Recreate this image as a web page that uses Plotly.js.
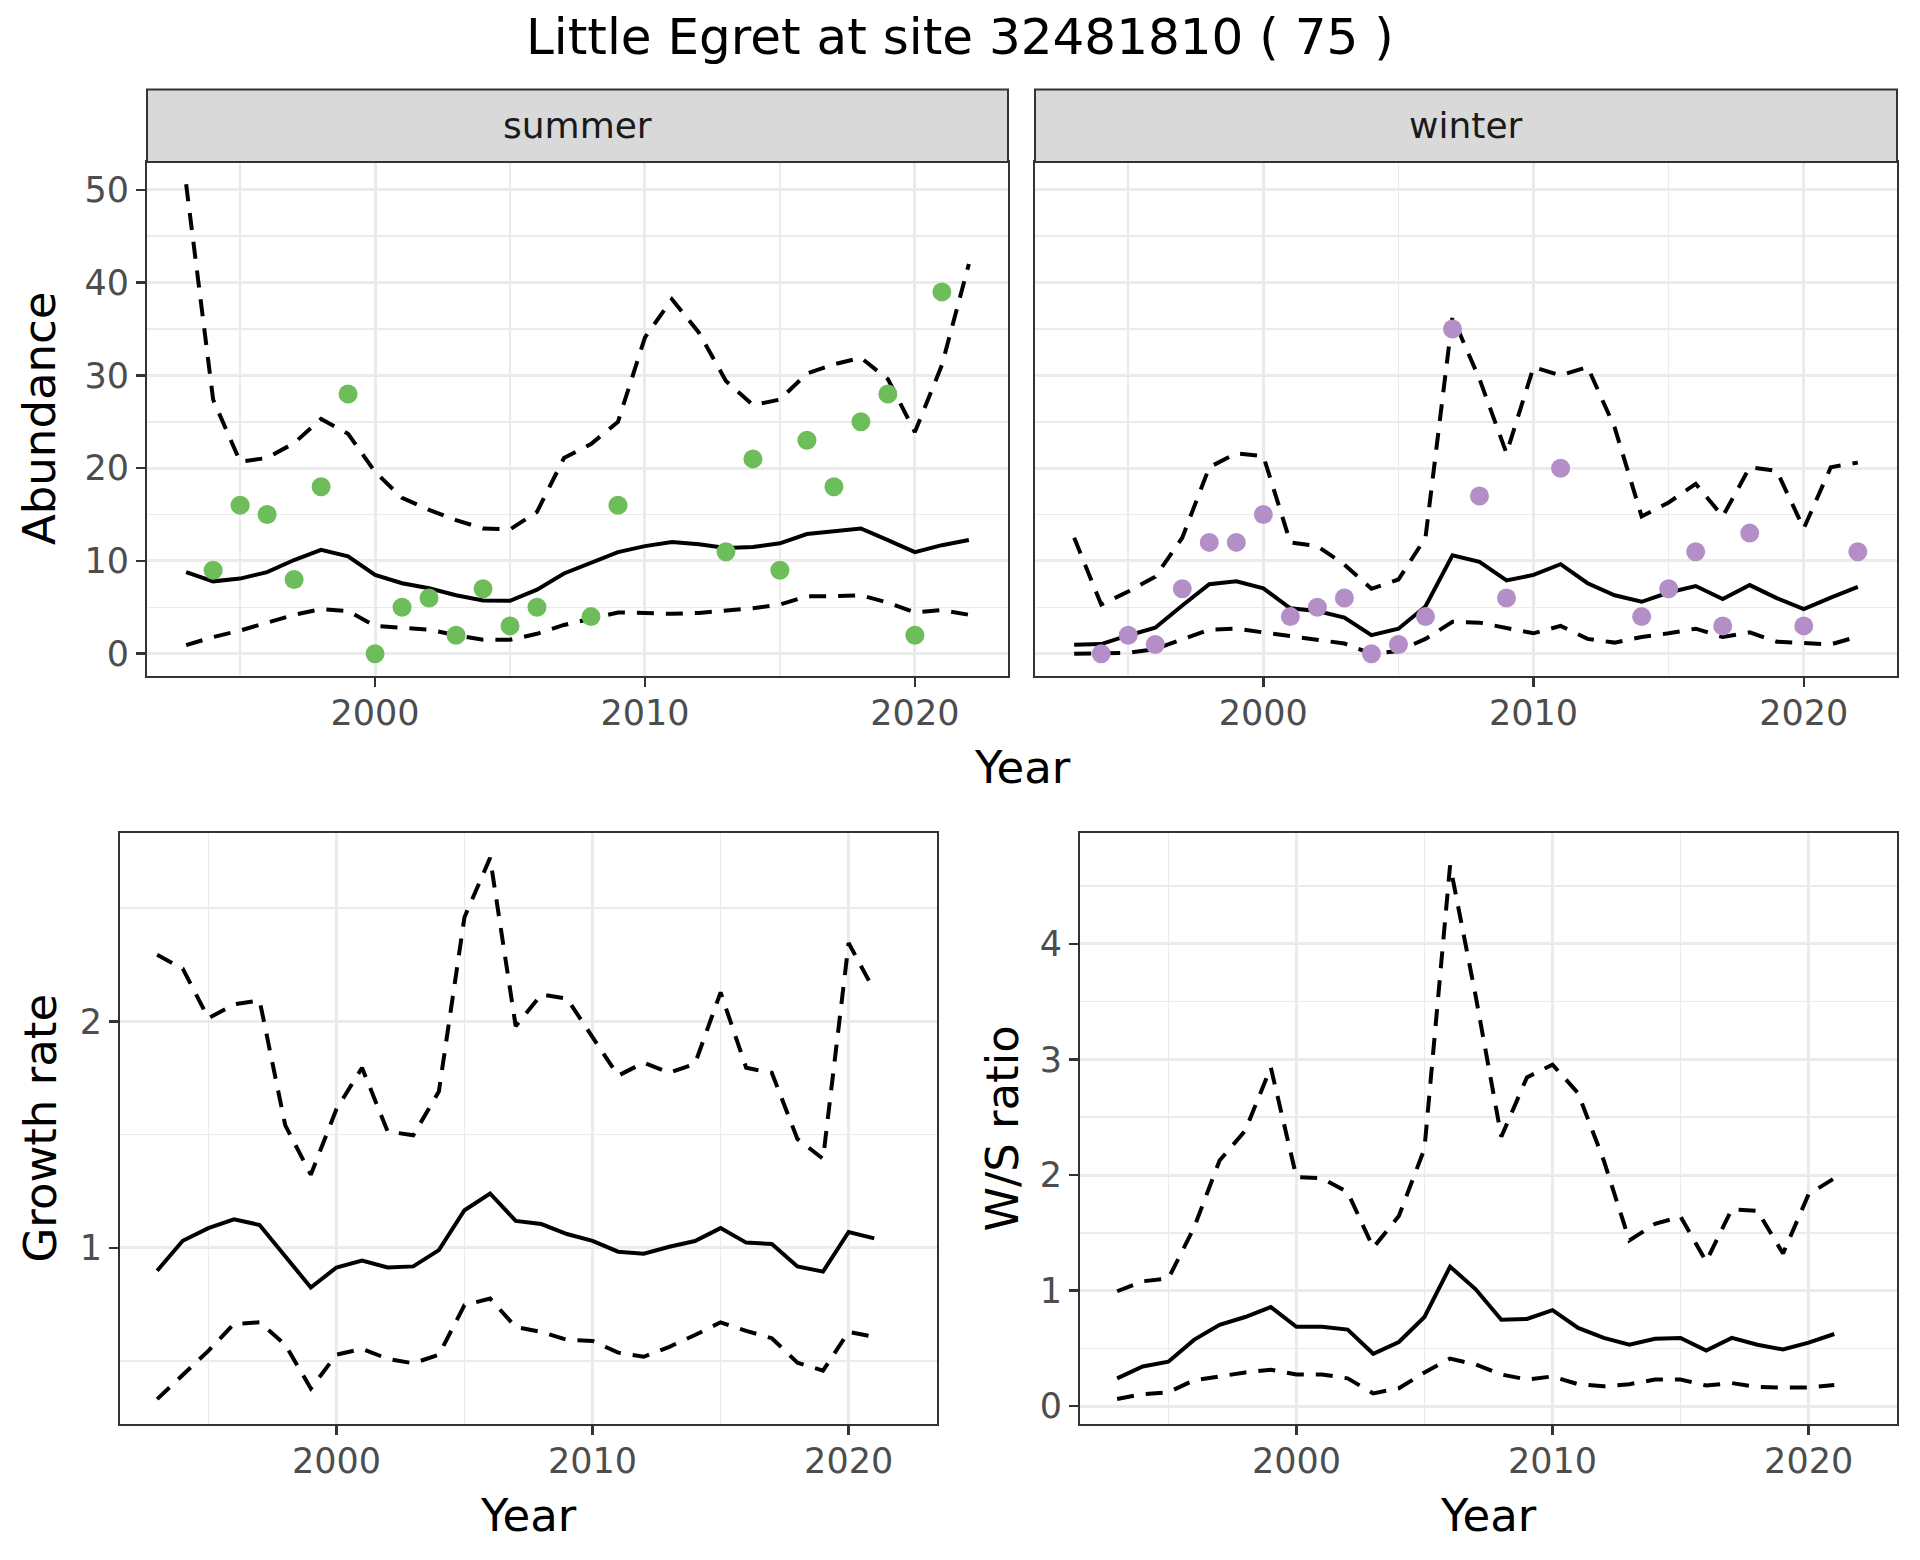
<!DOCTYPE html>
<html>
<head>
<meta charset="utf-8">
<script src="https://cdn.plot.ly/plotly-3.0.1.min.js"></script>
<style>
html,body{margin:0;padding:0;background:#fff;}
#chart{width:1920px;height:1560px;}
</style>
</head>
<body>
<div id="chart"></div>
<script>
// ---------- data ----------
const years = [1993,1994,1995,1996,1997,1998,1999,2000,2001,2002,2003,2004,2005,2006,2007,2008,2009,2010,2011,2012,2013,2014,2015,2016,2017,2018,2019,2020,2021,2022];
const ratioYears = [1993,1994,1995,1996,1997,1998,1999,2000,2001,2002,2003,2004,2005,2006,2007,2008,2009,2010,2011,2012,2013,2014,2015,2016,2017,2018,2019,2020,2021];

const summerObs = [null,9,16,15,8,18,28,0,5,6,2,7,3,5,null,4,16,null,null,null,11,21,9,23,18,25,28,2,39,null];
const summerMean = [8.8,7.8,8.1,8.8,10.1,11.2,10.5,8.5,7.6,7.05,6.3,5.75,5.7,6.9,8.65,9.75,10.95,11.6,12.05,11.8,11.4,11.5,11.9,12.9,13.2,13.5,12.25,10.95,11.7,12.25];
const summerUpper = [50.6,27.4,20.7,21.1,22.7,25.3,23.7,19.6,16.8,15.5,14.4,13.5,13.4,15.3,21.1,22.6,25.0,34.1,38.2,34.6,29.4,26.8,27.4,30.2,31.2,31.9,29.6,23.9,31.1,42.0];
const summerLower = [0.93,1.8,2.5,3.3,4.2,4.8,4.6,3.0,2.8,2.6,2.0,1.5,1.5,2.15,3.1,3.8,4.45,4.4,4.3,4.4,4.6,4.9,5.3,6.2,6.2,6.3,5.5,4.45,4.7,4.2];

const winterObs = [null,0,2,1,7,12,12,15,4,5,6,0,1,4,35,17,6,null,20,null,null,4,7,11,3,13,null,3,null,11];
const winterMean = [0.96,1.04,1.97,2.8,5.2,7.5,7.8,7.05,4.9,4.6,3.9,2.0,2.7,5.1,10.6,9.9,7.9,8.5,9.65,7.6,6.3,5.6,6.6,7.3,5.9,7.4,6.0,4.8,6.05,7.2];
const winterUpper = [12.5,5.3,6.7,8.3,12.5,20.1,21.6,21.3,12.0,11.6,9.6,7.0,8.0,12.5,36.3,29.6,21.6,30.9,30.0,30.9,24.4,14.8,16.3,18.3,14.8,20.1,19.7,13.5,20.1,20.6];
const winterLower = [0,0,0.1,0.5,1.6,2.6,2.7,2.3,1.8,1.5,1.1,0,0.3,1.6,3.45,3.35,2.8,2.2,3.0,1.6,1.2,1.8,2.2,2.7,1.8,2.3,1.3,1.2,1.0,1.85];

const growthMean = [0.899,1.031,1.087,1.126,1.101,0.962,0.825,0.913,0.944,0.913,0.918,0.99,1.166,1.24,1.119,1.105,1.061,1.031,0.983,0.974,1.005,1.03,1.087,1.023,1.017,0.918,0.895,1.07,1.042];
const growthUpper = [2.294,2.233,2.014,2.075,2.093,1.542,1.323,1.612,1.795,1.514,1.497,1.69,2.46,2.722,1.979,2.119,2.101,1.927,1.76,1.818,1.773,1.813,2.128,1.795,1.773,1.481,1.393,2.346,2.136];
const growthLower = [0.332,0.44,0.545,0.664,0.671,0.572,0.379,0.528,0.554,0.51,0.49,0.528,0.747,0.776,0.65,0.629,0.594,0.589,0.537,0.519,0.563,0.615,0.671,0.633,0.601,0.493,0.458,0.629,0.607];

const wsMean = [0.24,0.343,0.384,0.573,0.703,0.771,0.857,0.686,0.686,0.662,0.453,0.555,0.771,1.207,1.011,0.747,0.754,0.83,0.676,0.591,0.531,0.583,0.59,0.48,0.59,0.531,0.49,0.549,0.624];
const wsUpper = [0.994,1.08,1.104,1.543,2.126,2.383,2.931,1.982,1.971,1.851,1.371,1.645,2.228,4.68,3.548,2.331,2.845,2.955,2.708,2.126,1.433,1.577,1.639,1.251,1.704,1.69,1.32,1.834,1.971];
const wsLower = [0.062,0.103,0.12,0.223,0.257,0.291,0.315,0.274,0.274,0.24,0.11,0.154,0.291,0.411,0.36,0.274,0.23,0.257,0.189,0.171,0.189,0.23,0.23,0.178,0.199,0.165,0.161,0.161,0.182];

const titleText = "Little Egret at site 32481810 ( 75 )";
const facetLabels = ["summer","winter"];
const xTickVals = [2000,2010,2020];

// ---------- styles ----------
const FONT = "DejaVu Sans, Verdana, sans-serif";
const LW = 4;
const DASH = "17px,12px";
const summerColor = "#6DBD5B";
const winterColor = "#B48FC7";
const TICKSIZE = 35;
const AXTITLE = 45;

function lineTrace(x, y, xa, ya, dashed){
  return {x:x, y:y, xaxis:xa, yaxis:ya, type:"scatter", mode:"lines",
          line:{color:"#000000", width:LW, dash: dashed ? DASH : "solid"},
          hoverinfo:"skip", showlegend:false, connectgaps:false};
}
function pointTrace(x, y, xa, ya, color){
  return {x:x, y:y, xaxis:xa, yaxis:ya, type:"scatter", mode:"markers",
          marker:{color:color, size:19, line:{width:0}}, showlegend:false, hoverinfo:"skip"};
}

const traces = [
  lineTrace(years, summerUpper, "x", "y", true),
  lineTrace(years, summerLower, "x", "y", true),
  lineTrace(years, summerMean, "x", "y", false),
  pointTrace(years, summerObs, "x", "y", summerColor),
  lineTrace(years, winterUpper, "x2", "y2", true),
  lineTrace(years, winterLower, "x2", "y2", true),
  lineTrace(years, winterMean, "x2", "y2", false),
  pointTrace(years, winterObs, "x2", "y2", winterColor),
  lineTrace(ratioYears, growthUpper, "x3", "y3", true),
  lineTrace(ratioYears, growthLower, "x3", "y3", true),
  lineTrace(ratioYears, growthMean, "x3", "y3", false),
  lineTrace(ratioYears, wsUpper, "x4", "y4", true),
  lineTrace(ratioYears, wsLower, "x4", "y4", true),
  lineTrace(ratioYears, wsMean, "x4", "y4", false)
];

const W = 1920, H = 1560;
const px = v => v / W;
const py = v => 1 - v / H;

const xr = [1991.55, 2023.45];
function xAxis(dom, anchor){
  return {domain:dom, anchor:anchor, range:xr, tickvals:xTickVals, ticktext:xTickVals.map(String),
    showgrid:true, gridcolor:"#EBEBEB", gridwidth:3,
    minor:{tickvals:[1995,2005,2015], showgrid:true, gridcolor:"#EBEBEB", gridwidth:1.5, ticks:""},
    zeroline:false, showline:true, mirror:true, linecolor:"#333333", linewidth:2,
    ticks:"outside", ticklen:9, tickwidth:2.5, tickcolor:"#333333", ticklabelstandoff:-4,
    tickfont:{family:FONT, size:TICKSIZE, color:"#4D4D4D"}, fixedrange:true};
}
function yAxis(dom, anchor, range, tickvals, minorvals, showlabels){
  return {domain:dom, anchor:anchor, range:range, tickvals:tickvals, ticktext:tickvals.map(String),
    showgrid:true, gridcolor:"#EBEBEB", gridwidth:3,
    minor:{tickvals:minorvals, showgrid:true, gridcolor:"#EBEBEB", gridwidth:1.5, ticks:""},
    zeroline:false, showline:true, mirror:true, linecolor:"#333333", linewidth:2,
    ticks: showlabels ? "outside" : "", ticklen:9, tickwidth:2.5, tickcolor:"#333333",
    showticklabels:showlabels,
    tickfont:{family:FONT, size:TICKSIZE, color:"#4D4D4D"}, fixedrange:true};
}

const topDom = [py(676), py(162)];
const botDom = [py(1424), py(833)];
const dTL = [px(147), px(1008)];
const dTR = [px(1035), px(1897)];
const dBL = [px(120), px(937)];
const dBR = [px(1080), px(1897)];

const abTicks = [0,10,20,30,40,50];
const abMinor = [5,15,25,35,45];

const layout = {
  width:W, height:H, margin:{l:0,r:0,t:0,b:0},
  paper_bgcolor:"#FFFFFF", plot_bgcolor:"#FFFFFF",
  showlegend:false,
  font:{family:FONT, color:"#000000"},
  xaxis: xAxis(dTL, "y"),
  yaxis: yAxis(topDom, "x", [-2.4, 53.0], abTicks, abMinor, true),
  xaxis2: xAxis(dTR, "y2"),
  yaxis2: yAxis(topDom, "x2", [-2.4, 53.0], abTicks, abMinor, false),
  xaxis3: xAxis(dBL, "y3"),
  yaxis3: yAxis(botDom, "x3", [0.222, 2.832], [1,2], [0.5,1.5,2.5], true),
  xaxis4: xAxis(dBR, "y4"),
  yaxis4: yAxis(botDom, "x4", [-0.155, 4.96], [0,1,2,3,4], [0.5,1.5,2.5,3.5,4.5], true),
  shapes: [
    {type:"rect", xref:"paper", yref:"paper", x0:dTL[0], x1:dTL[1], y0:py(162), y1:py(89.5),
     fillcolor:"#D9D9D9", line:{color:"#333333", width:2}, layer:"above"},
    {type:"rect", xref:"paper", yref:"paper", x0:dTR[0], x1:dTR[1], y0:py(162), y1:py(89.5),
     fillcolor:"#D9D9D9", line:{color:"#333333", width:2}, layer:"above"}
  ],
  annotations: [
    {text:titleText, xref:"paper", yref:"paper", x:0.5, y:py(37), xanchor:"center", yanchor:"middle",
     showarrow:false, font:{family:FONT, size:50, color:"#000000"}},
    {text:facetLabels[0], xref:"paper", yref:"paper", x:(dTL[0]+dTL[1])/2, y:py(125.5), xanchor:"center", yanchor:"middle",
     showarrow:false, font:{family:FONT, size:36, color:"#1A1A1A"}},
    {text:facetLabels[1], xref:"paper", yref:"paper", x:(dTR[0]+dTR[1])/2, y:py(125.5), xanchor:"center", yanchor:"middle",
     showarrow:false, font:{family:FONT, size:36, color:"#1A1A1A"}},
    {text:"Year", xref:"paper", yref:"paper", x:(dTL[0]+dTR[1])/2, y:py(767), xanchor:"center", yanchor:"middle",
     showarrow:false, font:{family:FONT, size:AXTITLE, color:"#000000"}},
    {text:"Abundance", xref:"paper", yref:"paper", x:px(40), y:(topDom[0]+topDom[1])/2, xanchor:"center", yanchor:"middle",
     textangle:-90, showarrow:false, font:{family:FONT, size:AXTITLE, color:"#000000"}},
    {text:"Growth rate", xref:"paper", yref:"paper", x:px(40), y:(botDom[0]+botDom[1])/2, xanchor:"center", yanchor:"middle",
     textangle:-90, showarrow:false, font:{family:FONT, size:AXTITLE, color:"#000000"}},
    {text:"W/S ratio", xref:"paper", yref:"paper", x:px(1002), y:(botDom[0]+botDom[1])/2, xanchor:"center", yanchor:"middle",
     textangle:-90, showarrow:false, font:{family:FONT, size:AXTITLE, color:"#000000"}},
    {text:"Year", xref:"paper", yref:"paper", x:(dBL[0]+dBL[1])/2, y:py(1515), xanchor:"center", yanchor:"middle",
     showarrow:false, font:{family:FONT, size:AXTITLE, color:"#000000"}},
    {text:"Year", xref:"paper", yref:"paper", x:(dBR[0]+dBR[1])/2, y:py(1515), xanchor:"center", yanchor:"middle",
     showarrow:false, font:{family:FONT, size:AXTITLE, color:"#000000"}}
  ]
};

Plotly.newPlot("chart", traces, layout, {staticPlot:true, displayModeBar:false});
</script>
</body>
</html>
